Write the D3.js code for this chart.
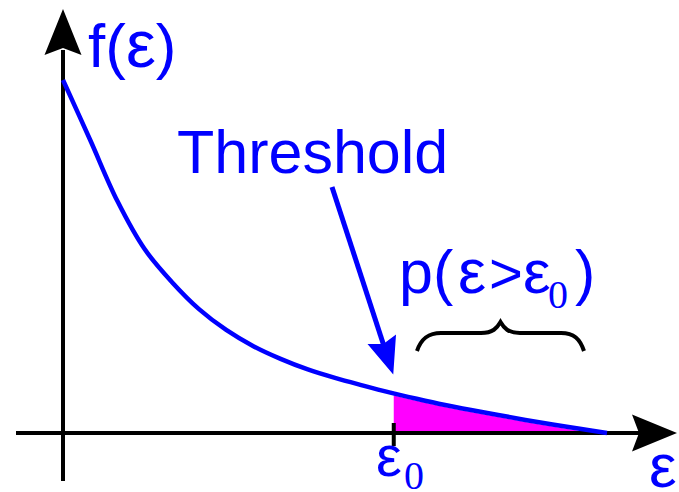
<!DOCTYPE html>
<html>
<head>
<meta charset="utf-8">
<script src="https://cdn.jsdelivr.net/npm/d3@7/dist/d3.min.js"></script>
<style>
  html, body { margin: 0; padding: 0; background: #fff; }
  svg { display: block; }
  .sans { font-family: "Liberation Sans", Arial, sans-serif; }
  .serif { font-family: "Liberation Serif", "Times New Roman", serif; }
</style>
</head>
<body>
<svg id="chart" width="679" height="492"></svg>
<script>
// Probability density f(ε), sampled along ε
const epsValues = [0, 0.5, 1, 1.5, 2, 2.5, 3, 3.5, 4, 4.5, 5, 5.5, 6, 6.5, 7, 7.5, 8, 8.5, 9, 9.5, 10];
const densityValues = [1.000, 0.830, 0.657, 0.521, 0.428, 0.351, 0.292, 0.246, 0.210, 0.180, 0.156, 0.135, 0.115, 0.097, 0.080, 0.065, 0.051, 0.037, 0.024, 0.012, 0.000];
// Threshold ε0
const thresholdValue = [6.08];
// Text labels
const yAxisLabel = ["f(", "ε", ")"];
const xAxisLabel = ["ε"];
const thresholdLabel = ["Threshold"];
const tickLabel = ["ε", "0"];
const tailLabel = ["p(", "ε", ">", "ε", "0", ")"];

const BLUE = "#0000ff";
const MAGENTA = "#ff00ff";

const svg = d3.select("#chart");

const x = d3.scaleLinear().domain([0, 10]).range([63, 607]);
const y = d3.scaleLinear().domain([0, 1]).range([433, 80]);

const data = epsValues.map((e, i) => ({ e, f: densityValues[i] }));
const eps0 = thresholdValue[0];

// density at ε0 (linear between neighbouring samples)
const bis = d3.bisector(d => d.e).left;
const j = bis(data, eps0);
const a = data[j - 1], b = data[j];
const f0 = a.f + (b.f - a.f) * (eps0 - a.e) / (b.e - a.e);
const tail = [{ e: eps0, f: f0 }].concat(data.filter(d => d.e > eps0));

const curve = d3.curveCatmullRom.alpha(0.5);

// shaded tail probability
svg.append("path")
  .datum(tail)
  .attr("fill", MAGENTA)
  .attr("d", d3.area().x(d => x(d.e)).y0(y(0)).y1(d => y(d.f) + 2).curve(curve));

// axes
const axisG = svg.append("g");
axisG.append("line")
  .attr("x1", 16).attr("x2", 645).attr("y1", y(0)).attr("y2", y(0))
  .attr("stroke", "#000").attr("stroke-width", 4);
axisG.append("line")
  .attr("x1", x(0)).attr("x2", x(0)).attr("y1", 481).attr("y2", 50)
  .attr("stroke", "#000").attr("stroke-width", 4);

// arrowheads
function arrowHead(g, tipX, tipY, dx, dy, len, half, notch, fill) {
  const L = Math.hypot(dx, dy), ux = dx / L, uy = dy / L, px = -uy, py = ux;
  const bx = tipX - ux * len, by = tipY - uy * len;
  const p = d3.path();
  p.moveTo(tipX, tipY);
  p.lineTo(bx + px * half, by + py * half);
  p.lineTo(bx + ux * notch, by + uy * notch);
  p.lineTo(bx - px * half, by - py * half);
  p.closePath();
  g.append("path").attr("d", p.toString()).attr("fill", fill);
}
arrowHead(axisG, x(0), 9, 0, -1, 46, 18.5, 7, "#000");
arrowHead(axisG, 677, y(0), 1, 0, 45, 18.5, 7, "#000");

// tick at ε0
axisG.append("line")
  .attr("x1", x(eps0)).attr("x2", x(eps0)).attr("y1", 423).attr("y2", 446)
  .attr("stroke", "#000").attr("stroke-width", 4);

// density curve
svg.append("path")
  .datum(data)
  .attr("fill", "none")
  .attr("stroke", BLUE)
  .attr("stroke-width", 4.5)
  .attr("d", d3.line().x(d => x(d.e)).y(d => y(d.f)).curve(curve));

// threshold pointer
const tipX = x(eps0) - 0.5, tipY = y(f0) - 19;
const startX = 332, startY = 187;
svg.append("line")
  .attr("x1", startX).attr("y1", startY)
  .attr("x2", tipX - (tipX - startX) * 0.12).attr("y2", tipY - (tipY - startY) * 0.12)
  .attr("stroke", BLUE).attr("stroke-width", 5);
arrowHead(svg, tipX, tipY, tipX - startX, tipY - startY, 37, 15, 5, BLUE);

// brace over the tail
svg.append("path")
  .attr("fill", "none").attr("stroke", "#000").attr("stroke-width", 4)
  .attr("d", "M417,351 C421,339 428,333 441,333 L481,333 C493,333 497,328 500.5,322 C504,328 508,333 520,333 L561,333 C574,333 580,339 584,351");

// labels
const t1 = svg.append("text").attr("class", "sans").attr("x", 88).attr("y", 67)
  .attr("font-size", 62).attr("fill", BLUE);
t1.append("tspan").text(yAxisLabel[0]);
t1.append("tspan").attr("font-size", 67).text(yAxisLabel[1]);
t1.append("tspan").text(yAxisLabel[2]);

svg.append("text").attr("class", "sans").attr("x", 177).attr("y", 173)
  .attr("font-size", 61).attr("fill", BLUE).text(thresholdLabel[0]);

const t2 = svg.append("text").attr("class", "sans").attr("y", 293)
  .attr("font-size", 61).attr("fill", BLUE);
t2.append("tspan").attr("x", 399).text(tailLabel[0]);
t2.append("tspan").attr("x", 458).attr("font-size", 63).text(tailLabel[1]);
t2.append("tspan").attr("x", 489).attr("font-size", 58).text(tailLabel[2]);
t2.append("tspan").attr("x", 523).attr("font-size", 62).text(tailLabel[3]);
t2.append("tspan").attr("x", 548).attr("y", 308).attr("class", "serif").attr("font-size", 40).text(tailLabel[4]);
t2.append("tspan").attr("x", 575).attr("y", 293).text(tailLabel[5]);

const t3 = svg.append("text").attr("class", "sans").attr("y", 476)
  .attr("font-size", 58).attr("fill", BLUE);
t3.append("tspan").attr("x", 376).text(tickLabel[0]);
t3.append("tspan").attr("x", 404).attr("y", 489).attr("class", "serif").attr("font-size", 40).text(tickLabel[1]);

svg.append("text").attr("class", "sans").attr("x", 649).attr("y", 487)
  .attr("font-size", 62).attr("fill", BLUE).text(xAxisLabel[0]);
</script>
</body>
</html>
